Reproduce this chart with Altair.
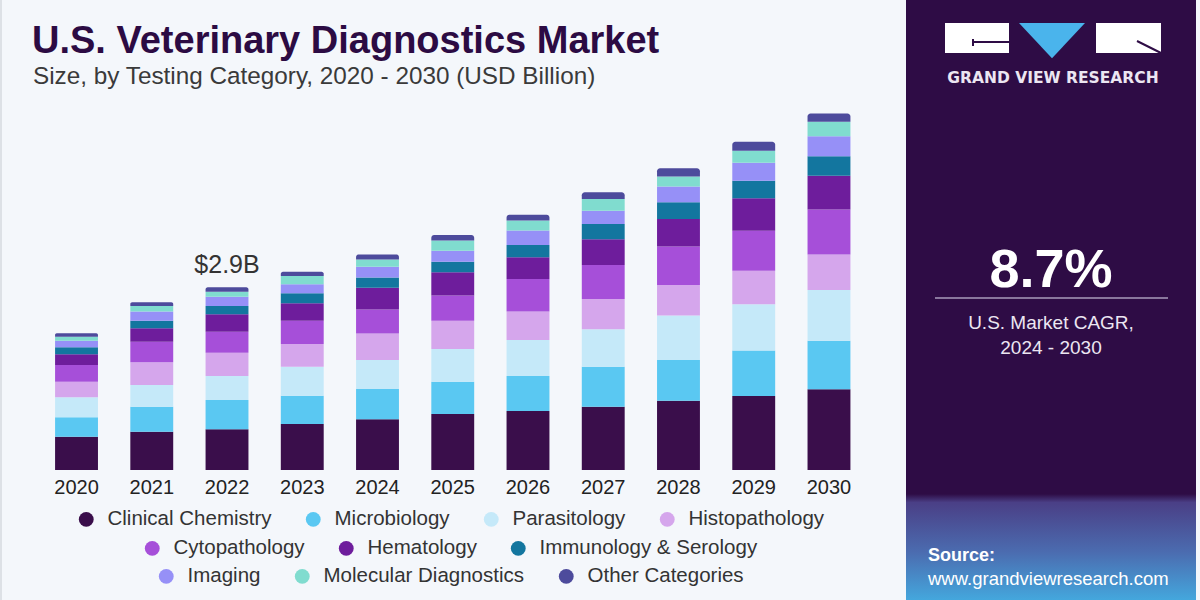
import altair as alt
import pandas as pd

# ---------------- data ----------------
years = ["2020", "2021", "2022", "2023", "2024", "2025", "2026", "2027", "2028", "2029", "2030"]
categories = [
    "Clinical Chemistry", "Microbiology", "Parasitology", "Histopathology",
    "Cytopathology", "Hematology", "Immunology & Serology", "Imaging",
    "Molecular Diagnostics", "Other Categories",
]
colors = ["#3a0e4b", "#5ac8f2", "#c5e9f9", "#d5a6ec", "#a64fd9",
          "#6e1d9c", "#13769f", "#9690f7", "#80dccf", "#4d4b9c"]

clinical_chemistry = [0.529, 0.608, 0.646, 0.730, 0.804, 0.889, 0.937, 1.005, 1.101, 1.175, 1.280]
microbiology = [0.307, 0.397, 0.466, 0.450, 0.481, 0.513, 0.556, 0.635, 0.646, 0.720, 0.772]
parasitology = [0.317, 0.344, 0.381, 0.460, 0.460, 0.519, 0.571, 0.593, 0.704, 0.735, 0.804]
histopathology = [0.249, 0.360, 0.370, 0.360, 0.423, 0.450, 0.450, 0.481, 0.487, 0.534, 0.566]
cytopathology = [0.265, 0.328, 0.333, 0.370, 0.381, 0.397, 0.519, 0.540, 0.608, 0.635, 0.714]
hematology = [0.169, 0.212, 0.275, 0.275, 0.344, 0.370, 0.344, 0.407, 0.439, 0.513, 0.534]
immunology = [0.111, 0.122, 0.132, 0.159, 0.164, 0.169, 0.196, 0.243, 0.265, 0.280, 0.312]
imaging = [0.106, 0.143, 0.148, 0.143, 0.169, 0.175, 0.228, 0.212, 0.249, 0.286, 0.317]
molecular = [0.063, 0.090, 0.079, 0.132, 0.116, 0.159, 0.159, 0.185, 0.159, 0.190, 0.228]
other = [0.053, 0.058, 0.069, 0.069, 0.079, 0.090, 0.090, 0.106, 0.132, 0.143, 0.132]

series = [clinical_chemistry, microbiology, parasitology, histopathology, cytopathology,
          hematology, immunology, imaging, molecular, other]

annot_year = ["2022"]
annot_total = [2.9]
annot_text = ["$2.9B"]

legend_rows = [categories[0:4], categories[4:7], categories[7:10]]

# ---------------- tables ----------------
rows = []
for ci, (cat, vals) in enumerate(zip(categories, series)):
    for y, v in zip(years, vals):
        rows.append({"year": y, "category": cat, "value": v, "order": ci})
df = pd.DataFrame(rows)
years_df = pd.DataFrame({"year": years})
annot_df = pd.DataFrame({"year": annot_year, "total": annot_total, "label": annot_text})
one = pd.DataFrame({"k": [0]})

PANEL = "#2e0c45"
FONT = "Liberation Sans, Arial, sans-serif"

xscale = alt.Scale(domain=years, range=[38.9, 866.6], paddingInner=0.43, paddingOuter=0.215)
yscale = alt.Scale(domain=[0, 6], range=[470, 92])
cscale = alt.Scale(domain=categories, range=colors)

# ---------------- bars ----------------
base = alt.Chart(df).transform_stack(
    stack="value", groupby=["year"], sort=[alt.SortField("order")], as_=["y0", "y1"]
)
enc = dict(
    x=alt.X("year:N", scale=xscale, axis=None),
    y=alt.Y("y0:Q", scale=yscale, axis=None, stack=None),
    y2="y1:Q",
    color=alt.Color("category:N", scale=cscale, legend=None),
)
bars_main = base.transform_filter(alt.datum.category != "Other Categories").mark_bar().encode(**enc)
bars_top = base.transform_filter(alt.datum.category == "Other Categories").mark_bar(
    cornerRadiusTopLeft=3, cornerRadiusTopRight=3).encode(**enc)

year_labels = alt.Chart(years_df).mark_text(
    font=FONT, fontSize=20, color="#222222", baseline="alphabetic"
).encode(x=alt.X("year:N", scale=xscale, axis=None), y=alt.value(494), text="year:N")

annot = alt.Chart(annot_df).mark_text(
    font=FONT, fontSize=25, color="#333333", baseline="alphabetic", dy=-14
).encode(x=alt.X("year:N", scale=xscale, axis=None),
         y=alt.Y("total:Q", scale=yscale, axis=None), text="label:N")

# ---------------- titles ----------------
title = alt.Chart(one).mark_text(
    text="U.S. Veterinary Diagnostics Market", font=FONT, fontSize=38, fontWeight="bold",
    color="#2c0b43", align="left", baseline="alphabetic"
).encode(x=alt.value(32), y=alt.value(53))
subtitle = alt.Chart(one).mark_text(
    text="Size, by Testing Category, 2020 - 2030 (USD Billion)", font=FONT, fontSize=24.3,
    color="#3a3a3a", align="left", baseline="alphabetic"
).encode(x=alt.value(33), y=alt.value(84))

edge = alt.Chart(one).mark_rect(color="#dde1e6").encode(
    x=alt.value(0), x2=alt.value(2), y=alt.value(0), y2=alt.value(600))

# ---------------- right panel ----------------
panel = alt.Chart(one).mark_rect(color=PANEL).encode(
    x=alt.value(906), x2=alt.value(1196), y=alt.value(0), y2=alt.value(600))
grad = alt.Chart(one).mark_rect(
    color=alt.Gradient(
        gradient="linear", x1=0, x2=0, y1=0, y2=1,
        stops=[alt.GradientStop(color=PANEL, offset=0),
               alt.GradientStop(color="#4a3f86", offset=0.08),
               alt.GradientStop(color="#4b6cb0", offset=0.55),
               alt.GradientStop(color="#44a7dd", offset=1)])
).encode(x=alt.value(906), x2=alt.value(1196), y=alt.value(494), y2=alt.value(600))

logo_l = alt.Chart(one).mark_rect(color="white").encode(
    x=alt.value(945), x2=alt.value(1009), y=alt.value(23), y2=alt.value(53))
logo_r = alt.Chart(one).mark_rect(color="white").encode(
    x=alt.value(1096), x2=alt.value(1161), y=alt.value(23), y2=alt.value(53))
logo_tri = alt.Chart(one).mark_point(
    shape="M -1 -1 L 1 -1 L 0 0.07 Z", filled=True, color="#4ab4ec", opacity=1, size=4356
).encode(x=alt.value(1052), y=alt.value(56))
logo_line1 = alt.Chart(one).mark_rule(color=PANEL, strokeWidth=2).encode(
    x=alt.value(973), x2=alt.value(1009), y=alt.value(42), y2=alt.value(42))
logo_line2 = alt.Chart(one).mark_rule(color=PANEL, strokeWidth=2).encode(
    x=alt.value(973), x2=alt.value(973), y=alt.value(39), y2=alt.value(46))
logo_line3 = alt.Chart(one).mark_rule(color=PANEL, strokeWidth=2).encode(
    x=alt.value(1137), x2=alt.value(1161), y=alt.value(41), y2=alt.value(53))
logo_text = alt.Chart(one).mark_text(
    text="GRAND VIEW RESEARCH", font="DejaVu Sans", fontSize=15.5, fontWeight="bold",
    color="#ece6f2", baseline="middle"
).encode(x=alt.value(1053), y=alt.value(78))

cagr = alt.Chart(one).mark_text(
    text="8.7%", font=FONT, fontSize=54, fontWeight="bold", color="white", baseline="alphabetic"
).encode(x=alt.value(1051), y=alt.value(287))
cagr_rule = alt.Chart(one).mark_rule(color="#a99bbb", strokeWidth=1.5).encode(
    x=alt.value(935), x2=alt.value(1168), y=alt.value(298), y2=alt.value(298))
cagr_t1 = alt.Chart(one).mark_text(
    text="U.S. Market CAGR,", font=FONT, fontSize=19, color="#ece6f2", baseline="alphabetic"
).encode(x=alt.value(1051), y=alt.value(329))
cagr_t2 = alt.Chart(one).mark_text(
    text="2024 - 2030", font=FONT, fontSize=19, color="#ece6f2", baseline="alphabetic"
).encode(x=alt.value(1051), y=alt.value(354))
src1 = alt.Chart(one).mark_text(
    text="Source:", font=FONT, fontSize=18, fontWeight="bold", color="white",
    align="left", baseline="alphabetic"
).encode(x=alt.value(928), y=alt.value(561))
src2 = alt.Chart(one).mark_text(
    text="www.grandviewresearch.com", font=FONT, fontSize=18.5, color="white",
    align="left", baseline="alphabetic"
).encode(x=alt.value(928), y=alt.value(585))

# ---------------- legends (three centred rows) ----------------
legend_x = [76, 142, 156]
legend_y = [509, 538, 566]
legend_layers = []
for row, lx, ly in zip(legend_rows, legend_x, legend_y):
    rc = [colors[categories.index(c)] for c in row]
    legend_layers.append(
        alt.Chart(df).transform_filter("false").mark_point(filled=True, opacity=1).encode(
            color=alt.Color(
                "category:N",
                scale=alt.Scale(domain=row, range=rc),
                legend=alt.Legend(
                    orient="none", legendX=lx, legendY=ly, direction="horizontal",
                    title=None, symbolType="circle", symbolSize=220, symbolStrokeWidth=0,
                    symbolOpacity=1, labelFont=FONT, labelFontSize=20.5, labelColor="#333333",
                    labelOffset=11, columnPadding=31, padding=0, labelLimit=0,
                ),
            )
        )
    )

chart = alt.layer(
    edge, panel, grad, logo_l, logo_r, logo_tri, logo_line1, logo_line2, logo_line3, logo_text,
    cagr, cagr_rule, cagr_t1, cagr_t2, src1, src2,
    title, subtitle, bars_main, bars_top, year_labels, annot, *legend_layers
).resolve_scale(color="independent").properties(
    width=1200, height=600, autosize=alt.AutoSizeParams(type="none"), padding=0,
    background="#f4f7fb"
).configure_view(stroke=None)

chart.save("out.html", embed_options={"renderer": "svg", "actions": False})
